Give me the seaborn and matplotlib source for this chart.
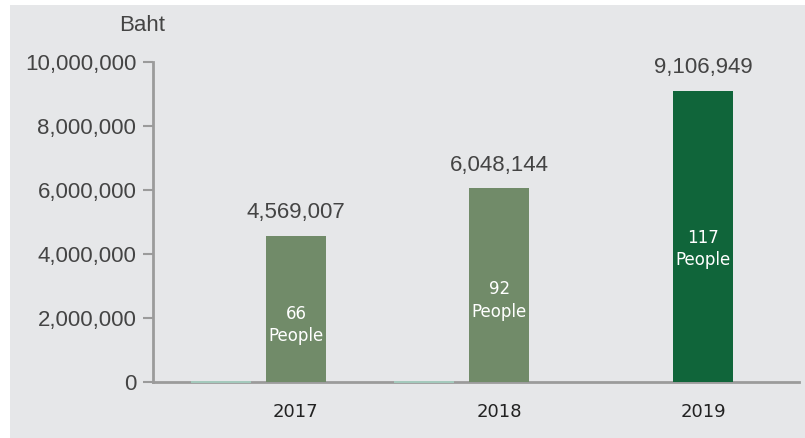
import numpy as np
import pandas as pd
import matplotlib
matplotlib.use("Agg")
import matplotlib.pyplot as plt
from matplotlib.patches import Rectangle
from matplotlib.ticker import FuncFormatter
import seaborn as sns

# Data
years = ["2017", "2018", "2019"]
baht = [4569007, 6048144, 9106949]
people = [66, 92, 117]
# headcount series as charted alongside the amounts (no separate bar in 2019)
people_series = [66, 92, np.nan]
y_ticks = [0, 2000000, 4000000, 6000000, 8000000, 10000000]

panel_bg = "#e6e7e9"
bar_colors = ["#718b69", "#718b69", "#10653a"]
teal = "#a6d3c3"
spine_gray = "#9b9b9b"
text_gray = "#444444"

df = pd.DataFrame({
    "year": years * 2,
    "series": ["People"] * 3 + ["Baht"] * 3,
    "value": people_series + baht,
})

sns.set_theme(style="white")
plt.rcParams["font.family"] = ["Liberation Sans", "DejaVu Sans"]

fig = plt.figure(figsize=(8.05, 4.38), dpi=100)
fig.patch.set_facecolor("white")
fig.patches.append(Rectangle((10 / 805, 0), 1, 1 - 5 / 438,
                             transform=fig.transFigure, facecolor=panel_bg,
                             edgecolor="none", zorder=-10))

ax = fig.add_axes([153 / 805, 1 - 382 / 438, (799 - 153) / 805, (382 - 62) / 438])
ax.set_facecolor(panel_bg)

group_w = 0.737
sns.barplot(data=df, x="year", y="value", hue="series", hue_order=["People", "Baht"],
            order=years, width=group_w, gap=0.2, palette=[teal, bar_colors[0]],
            ax=ax, legend=False, errorbar=None, saturation=1)

people_bars, baht_bars = ax.containers[0], ax.containers[1]
for p in people_bars:
    p.set_edgecolor(teal)
    p.set_linewidth(1.2)
    p.set_zorder(4)
    p.set_clip_on(False)
for p, c in zip(baht_bars, bar_colors):
    p.set_facecolor(c)
    p.set_edgecolor("none")
    p.set_zorder(3)

# amounts above the bars
ax.bar_label(baht_bars, labels=[f"{v:,}" for v in baht], padding=9,
             fontsize=16, color=text_gray)

# headcount inside the bars
for p, n in zip(baht_bars, people):
    cx = p.get_x() + p.get_width() / 2
    ax.text(cx, p.get_height() * 0.525, f"{n}\nPeople", ha="center", va="top",
            color="white", fontsize=12, family=["DejaVu Sans"], linespacing=1.3,
            zorder=5)

ax.set_xlim(-0.518, 2.656)
ax.set_ylim(0, 10000000)
ax.set_yticks(y_ticks)
ax.yaxis.set_major_formatter(FuncFormatter(lambda v, _: f"{int(v):,}"))
ax.set_xticks([i + group_w / 4 for i in range(len(years))])
ax.set_xticklabels(years)
ax.set_xlabel("")
ax.set_ylabel("")

for side in ["top", "right"]:
    ax.spines[side].set_visible(False)
for side in ["left", "bottom"]:
    ax.spines[side].set_color(spine_gray)
    ax.spines[side].set_linewidth(2.0)
    ax.spines[side].set_zorder(2)

ax.tick_params(axis="y", left=True, length=7, width=1.5, color=spine_gray,
               pad=5, labelsize=16, labelcolor=text_gray)
ax.tick_params(axis="x", bottom=False, length=0, pad=15, labelsize=13,
               labelcolor="#222222")
for lbl in ax.get_xticklabels():
    lbl.set_family(["DejaVu Sans"])

fig.text(165 / 805, 1 - 15 / 438, "Baht", ha="right", va="top", fontsize=16,
         color=text_gray)

fig.savefig("out.png", dpi=100, facecolor=fig.get_facecolor())
